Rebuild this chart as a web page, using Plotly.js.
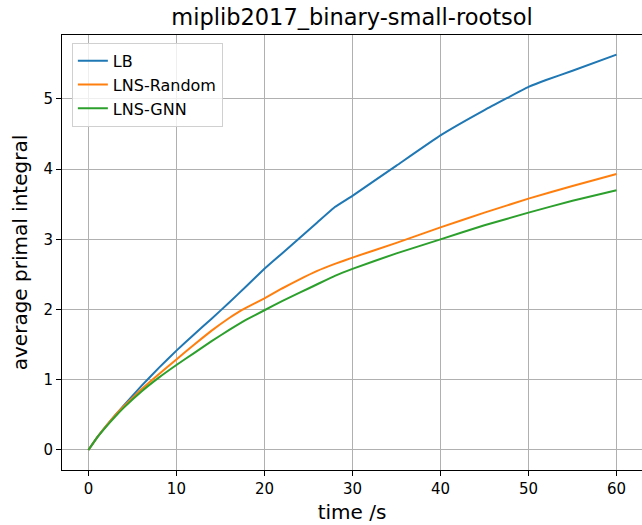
<!DOCTYPE html>
<html>
<head>
<meta charset="utf-8">
<script src="https://cdn.plot.ly/plotly-3.0.1.min.js"></script>
<style>html,body{margin:0;padding:0;background:#fff;}#chart{width:642px;height:525px;}</style>
</head>
<body>
<div id="chart"></div>
<script>
const timeLB = [0, 1, 2, 3, 4, 6, 8, 10, 12, 14, 16, 18, 20, 22, 24, 26, 28, 30, 35, 40, 45, 50, 52, 55, 60];
const valLB = [0, 0.18, 0.34, 0.49, 0.63, 0.91, 1.17, 1.415, 1.645, 1.87, 2.1, 2.34, 2.58, 2.8, 3.02, 3.24, 3.46, 3.62, 4.05, 4.48, 4.84, 5.17, 5.27, 5.4, 5.63];
const timeRandom = [0, 1, 2, 3, 4, 6, 8, 10, 12, 14, 16, 17, 18, 20, 22, 24, 26, 28, 30, 35, 40, 45, 50, 55, 60];
const valRandom = [0, 0.18, 0.34, 0.49, 0.62, 0.86, 1.08, 1.29, 1.5, 1.7, 1.88, 1.96, 2.03, 2.16, 2.3, 2.43, 2.55, 2.65, 2.74, 2.95, 3.17, 3.38, 3.58, 3.76, 3.93];
const timeGNN = [0, 1, 2, 3, 4, 6, 8, 10, 12, 14, 16, 18, 20, 22, 24, 26, 28, 30, 35, 40, 45, 50, 55, 60];
const valGNN = [0, 0.18, 0.33, 0.47, 0.6, 0.83, 1.03, 1.21, 1.38, 1.55, 1.71, 1.86, 1.99, 2.12, 2.24, 2.36, 2.48, 2.58, 2.8, 3.0, 3.2, 3.38, 3.55, 3.7];
const seriesNames = ["LB", "LNS-Random", "LNS-GNN"];
const xTicks = [0, 10, 20, 30, 40, 50, 60];
const yTicks = [0, 1, 2, 3, 4, 5];

const colors = ["#1f77b4", "#ff7f0e", "#2ca02c"];
const xs = [timeLB, timeRandom, timeGNN];
const ys = [valLB, valRandom, valGNN];
const data = seriesNames.map((n, i) => ({
  x: xs[i], y: ys[i], name: n, type: "scatter", mode: "lines",
  line: {color: colors[i], width: 2, shape: "spline", smoothing: 0.3}
}));

const fam = "DejaVu Sans";
const layout = {
  width: 642, height: 525,
  margin: {l: 62, r: 0, t: 35, b: 55},
  paper_bgcolor: "#fff", plot_bgcolor: "#fff",
  font: {family: fam, size: 15, color: "#000"},
  title: {text: "miplib2017_binary-small-rootsol", font: {family: fam, size: 22.5, color: "#000"},
    x: 0.5, xref: "paper", y: 1 - 17/525, yref: "container", yanchor: "middle"},
  xaxis: {
    range: [-3, 62.9], tickvals: xTicks, ticktext: xTicks.map(String),
    showgrid: true, gridcolor: "#b0b0b0", gridwidth: 1,
    showline: true, linecolor: "#000", linewidth: 1, mirror: true,
    ticks: "outside", ticklen: 5, tickcolor: "#000", zeroline: false,
    tickfont: {family: fam, size: 15, color: "#000"},
    title: {text: "time /s", font: {family: fam, size: 20, color: "#000"}, standoff: 7}
  },
  yaxis: {
    range: [-0.285, 5.91], tickvals: yTicks, ticktext: yTicks.map(String),
    showgrid: true, gridcolor: "#b0b0b0", gridwidth: 1,
    showline: true, linecolor: "#000", linewidth: 1, mirror: true,
    ticks: "outside", ticklen: 5, tickcolor: "#000", zeroline: false,
    tickfont: {family: fam, size: 15, color: "#000"},
    title: {text: "average primal integral", font: {family: fam, size: 20, color: "#000"}, standoff: 10}
  },
  showlegend: true,
  legend: {x: 0.017, y: 0.982, xanchor: "left", yanchor: "top",
    bgcolor: "rgba(255,255,255,0.8)", bordercolor: "#d0d0d0", borderwidth: 1,
    tracegroupgap: 0,
    font: {family: fam, size: 16, color: "#000"}}
};
Plotly.newPlot("chart", data, layout, {displayModeBar: false, staticPlot: true});
</script>
</body>
</html>
